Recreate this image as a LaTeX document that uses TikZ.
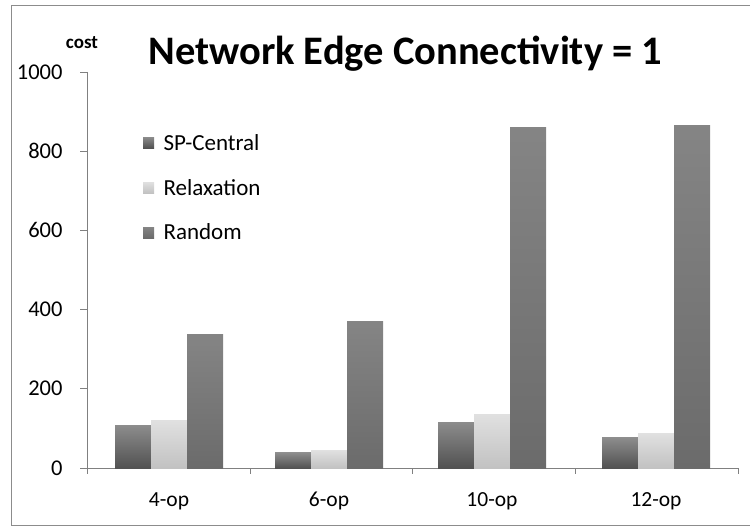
\documentclass[tikz,border=0pt]{standalone}
\usepackage{fontspec}
\setmainfont{Carlito}
\begin{document}
\begin{tikzpicture}[x=1pt, y=-1pt,
    ticklabel/.style={font=\fontsize{22.5}{22.5}\selectfont, anchor=base east},
    catlabel/.style={font=\fontsize{21.5}{21.5}\selectfont, anchor=base},
    legtext/.style={font=\fontsize{23}{23}\selectfont, anchor=base west},
    spbar/.style={top color=black!45, bottom color=black!68},
    relbar/.style={top color=black!12, bottom color=black!24},
    rndbar/.style={top color=black!48, bottom color=black!58}]
    \useasboundingbox (0,0) rectangle (750,527);

    % Frame
    \draw[black!45, line width=1pt] (752,6) -- (11,6) -- (11,525) -- (752,525);

    % Title
    \node[font=\fontsize{40.5}{40.5}\selectfont\bfseries, anchor=base west] (title) at (145,65) {Network Edge Connectivity = 1};
    \node[font=\fontsize{19}{19}\selectfont\bfseries, anchor=base] (cost) at (82,49) {cost};

    % Axes
    \draw[black!50, line width=1pt] (87,72) -- (87,468) -- (738,468);
    \foreach \v in {0,200,...,1000} {
        \draw[black!50, line width=1pt] (80,{468-0.396*\v}) -- (87,{468-0.396*\v});
        \node[ticklabel] (tick\v) at (66,{468-0.396*\v+7}) {\v};
    }
    \foreach \x in {87,250,412,575,738}
        \draw[black!50, line width=1pt] (\x,468) -- (\x,474);

    % Bars
    \foreach \gx/\a/\b/\c/\cat in {115/108/121/338/4-op, 275/38/45/371/6-op, 438/116/136/861/10-op, 602/76/88/866/12-op} {
        \fill[spbar] (\gx,468) rectangle ({\gx+36},{468-0.396*\a});
        \fill[relbar] ({\gx+36},468) rectangle ({\gx+72},{468-0.396*\b});
        \fill[rndbar] ({\gx+72},468) rectangle ({\gx+108},{468-0.396*\c});
        \node[catlabel] (cat\cat) at ({\gx+54},506) {\cat};
    }

    % Legend
    \fill[spbar] (143,137) rectangle (154,148);
    \node[legtext] (legsp) at (160,150) {SP-Central};
    \fill[relbar] (143,182) rectangle (154,193);
    \node[legtext] (legrel) at (160,195) {Relaxation};
    \fill[rndbar] (143,227) rectangle (154,238);
    \node[legtext] (legrnd) at (160,239) {Random};
\end{tikzpicture}
\end{document}
